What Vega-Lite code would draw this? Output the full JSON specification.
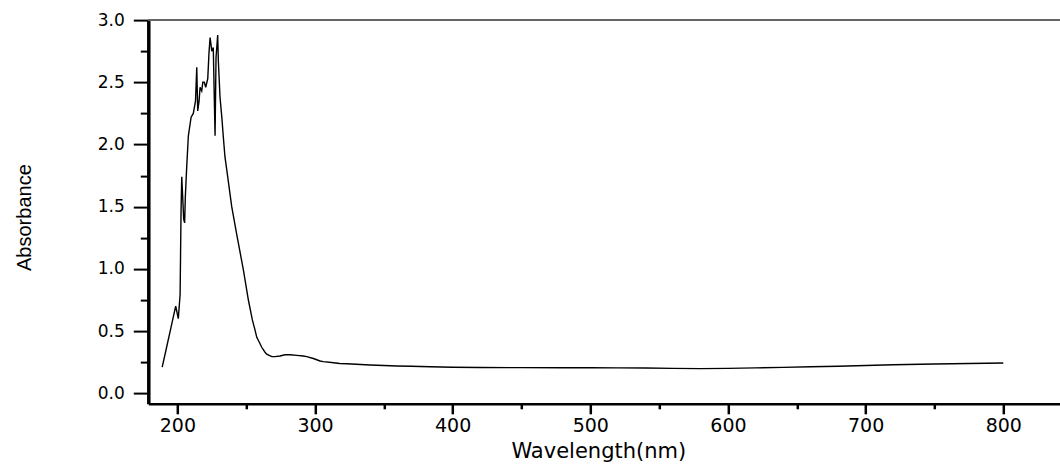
{
  "$schema": "https://vega.github.io/schema/vega-lite/v6.json",
  "width": 911.7,
  "height": 383.7,
  "autosize": {"type": "none"},
  "padding": {"left": 148.3, "top": 20.1, "right": 0, "bottom": 60.2},
  "background": "white",
  "config": {"view": {"stroke": null}},
  "data": {"values": [
    {"wavelength": 189, "absorbance": 0.21},
    {"wavelength": 192, "absorbance": 0.36},
    {"wavelength": 195, "absorbance": 0.51},
    {"wavelength": 198.8, "absorbance": 0.70},
    {"wavelength": 200.7, "absorbance": 0.60},
    {"wavelength": 201.5, "absorbance": 0.72},
    {"wavelength": 202, "absorbance": 0.79},
    {"wavelength": 202.7, "absorbance": 1.47},
    {"wavelength": 203.2, "absorbance": 1.74},
    {"wavelength": 204, "absorbance": 1.55},
    {"wavelength": 204.6, "absorbance": 1.40},
    {"wavelength": 205.3, "absorbance": 1.37},
    {"wavelength": 205.8, "absorbance": 1.58},
    {"wavelength": 206.8, "absorbance": 1.82},
    {"wavelength": 208, "absorbance": 2.07},
    {"wavelength": 210, "absorbance": 2.22},
    {"wavelength": 211.6, "absorbance": 2.25},
    {"wavelength": 212.4, "absorbance": 2.30},
    {"wavelength": 213.2, "absorbance": 2.35},
    {"wavelength": 214.1, "absorbance": 2.62},
    {"wavelength": 214.8, "absorbance": 2.27},
    {"wavelength": 215.8, "absorbance": 2.35},
    {"wavelength": 216.5, "absorbance": 2.46},
    {"wavelength": 217.7, "absorbance": 2.43},
    {"wavelength": 218.5, "absorbance": 2.50},
    {"wavelength": 219.6, "absorbance": 2.50},
    {"wavelength": 220.6, "absorbance": 2.46},
    {"wavelength": 222.1, "absorbance": 2.53},
    {"wavelength": 223, "absorbance": 2.74},
    {"wavelength": 223.8, "absorbance": 2.86},
    {"wavelength": 224.5, "absorbance": 2.80},
    {"wavelength": 225, "absorbance": 2.75},
    {"wavelength": 226.1, "absorbance": 2.78},
    {"wavelength": 227.4, "absorbance": 2.07},
    {"wavelength": 228.1, "absorbance": 2.70},
    {"wavelength": 229.3, "absorbance": 2.88},
    {"wavelength": 229.8, "absorbance": 2.67},
    {"wavelength": 231, "absorbance": 2.38},
    {"wavelength": 232.3, "absorbance": 2.22},
    {"wavelength": 233.4, "absorbance": 2.06},
    {"wavelength": 234.6, "absorbance": 1.90},
    {"wavelength": 236.6, "absorbance": 1.74},
    {"wavelength": 239.5, "absorbance": 1.50},
    {"wavelength": 243.1, "absorbance": 1.28},
    {"wavelength": 248, "absorbance": 0.99},
    {"wavelength": 251.6, "absorbance": 0.75},
    {"wavelength": 254.5, "absorbance": 0.59},
    {"wavelength": 256.4, "absorbance": 0.51},
    {"wavelength": 257.7, "absorbance": 0.45},
    {"wavelength": 260, "absorbance": 0.40},
    {"wavelength": 261.3, "absorbance": 0.37},
    {"wavelength": 263.7, "absorbance": 0.33},
    {"wavelength": 264.9, "absorbance": 0.315},
    {"wavelength": 268.6, "absorbance": 0.295},
    {"wavelength": 271, "absorbance": 0.295},
    {"wavelength": 274.6, "absorbance": 0.30},
    {"wavelength": 278.2, "absorbance": 0.31},
    {"wavelength": 282, "absorbance": 0.31},
    {"wavelength": 286.7, "absorbance": 0.305},
    {"wavelength": 291.5, "absorbance": 0.30},
    {"wavelength": 294, "absorbance": 0.295},
    {"wavelength": 298.8, "absorbance": 0.28},
    {"wavelength": 303.7, "absorbance": 0.26},
    {"wavelength": 306, "absorbance": 0.255},
    {"wavelength": 312, "absorbance": 0.248},
    {"wavelength": 318, "absorbance": 0.24},
    {"wavelength": 323, "absorbance": 0.237},
    {"wavelength": 330, "absorbance": 0.233},
    {"wavelength": 340, "absorbance": 0.228},
    {"wavelength": 350, "absorbance": 0.224},
    {"wavelength": 359.4, "absorbance": 0.22},
    {"wavelength": 370, "absorbance": 0.217},
    {"wavelength": 383.6, "absorbance": 0.213},
    {"wavelength": 400, "absorbance": 0.21},
    {"wavelength": 420, "absorbance": 0.208},
    {"wavelength": 450, "absorbance": 0.206},
    {"wavelength": 480, "absorbance": 0.205},
    {"wavelength": 500, "absorbance": 0.205},
    {"wavelength": 520, "absorbance": 0.204},
    {"wavelength": 540, "absorbance": 0.203},
    {"wavelength": 560, "absorbance": 0.200},
    {"wavelength": 580, "absorbance": 0.198},
    {"wavelength": 600, "absorbance": 0.200},
    {"wavelength": 620, "absorbance": 0.204},
    {"wavelength": 640, "absorbance": 0.208},
    {"wavelength": 660, "absorbance": 0.213},
    {"wavelength": 680, "absorbance": 0.218},
    {"wavelength": 700, "absorbance": 0.224},
    {"wavelength": 720, "absorbance": 0.229},
    {"wavelength": 750, "absorbance": 0.236},
    {"wavelength": 775, "absorbance": 0.240},
    {"wavelength": 800, "absorbance": 0.244}
  ]},
  "resolve": {"axis": {"y": "independent"}},
  "layer": [
    {
      "mark": {"type": "line", "color": "black", "strokeWidth": 1.4, "clip": true},
      "encoding": {
        "x": {
          "field": "wavelength",
          "type": "quantitative",
          "scale": {"domain": [178.9, 841.2], "nice": false, "zero": false},
          "axis": {
            "values": [200, 250, 300, 350, 400, 450, 500, 550, 600, 650, 700, 750, 800],
            "labelExpr": "datum.value % 100 === 0 ? datum.label : ''",
            "tickSize": {"condition": {"test": "datum.value % 100 !== 0", "value": 5}, "value": 10},
            "tickWidth": 2.5,
            "tickColor": "black",
            "domainColor": "black",
            "domainWidth": 2.5,
            "grid": false,
            "labelFont": "DejaVu Sans",
            "labelFontSize": 19,
            "labelColor": "black",
            "labelPadding": 3,
            "labelFlush": false,
            "labelOverlap": false,
            "title": "Wavelength(nm)",
            "titleFont": "DejaVu Sans",
            "titleFontSize": 21,
            "titleFontWeight": "normal",
            "titleColor": "black",
            "titleX": 450,
            "titleY": 54,
            "titleAlign": "center",
            "titleBaseline": "alphabetic"
          }
        },
        "y": {
          "field": "absorbance",
          "type": "quantitative",
          "scale": {"domain": [-0.0844, 3.0], "nice": false, "zero": false},
          "axis": {
            "orient": "left",
            "values": [0, 0.25, 0.5, 0.75, 1, 1.25, 1.5, 1.75, 2, 2.25, 2.5, 2.75, 3],
            "format": ".1f",
            "labelExpr": "datum.value % 0.5 === 0 ? datum.label : ''",
            "tickSize": {"condition": {"test": "datum.value % 0.5 !== 0", "value": 8}, "value": 15},
            "tickWidth": 2,
            "tickColor": "black",
            "domainColor": "black",
            "domainWidth": 3.5,
            "grid": false,
            "labelFont": "DejaVu Sans",
            "labelFontSize": 17,
            "labelColor": "black",
            "labelPadding": 9,
            "labelFlush": false,
            "labelOverlap": false,
            "title": "Absorbance",
            "titleFont": "Liberation Sans",
            "titleFontSize": 20,
            "titleFontWeight": "normal",
            "titleColor": "black",
            "titleX": -124,
            "titleY": 197,
            "titleAngle": 270,
            "titleAlign": "center",
            "titleBaseline": "middle"
          }
        }
      }
    },
    {
      "mark": {"type": "rule", "color": "#666666", "strokeWidth": 1},
      "encoding": {"y": {"datum": 3, "axis": null}}
    }
  ]
}
